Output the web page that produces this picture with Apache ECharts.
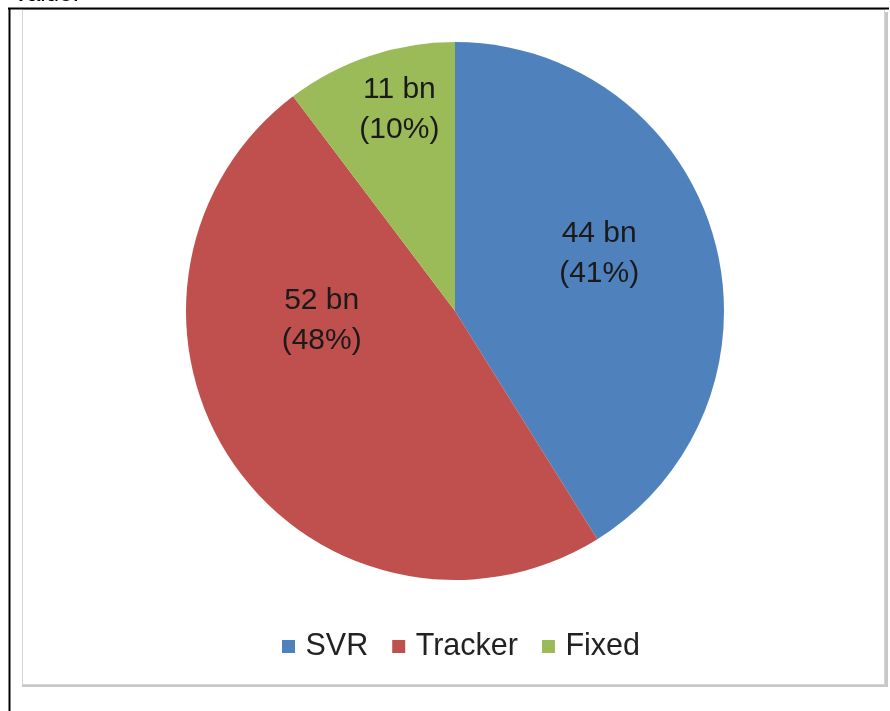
<!DOCTYPE html>
<html>
<head>
<meta charset="utf-8">
<script src="https://cdn.jsdelivr.net/npm/echarts@6/dist/echarts.min.js"></script>
<style>
html,body{margin:0;padding:0;background:#fff;}
#chart{width:890px;height:711px;}
</style>
</head>
<body>
<div id="chart"></div>
<script>
// ---- data ----
const categories = ['SVR', 'Tracker', 'Fixed'];
const valuesBn = [44, 52, 11];
const percentLabels = ['41%', '48%', '10%'];
const sliceColors = ['#4F81BD', '#C0504D', '#9BBB59'];
// label nudges (style only)
const labelNudge = [[12, -19], [-20, -68], [-12, -71]];

const FONT = '"Liberation Sans", Arial, sans-serif';

const chart = echarts.init(document.getElementById('chart'), null, {renderer: 'canvas'});

const option = {
  animation: false,
  backgroundColor: '#fff',
  color: sliceColors,
  graphic: [
    { type: 'text', left: 15, top: -17.5, style: { text: 'value.', font: '24px ' + FONT, fill: '#000' } },
    { type: 'rect', shape: { x: 885, y: 12, width: 3, height: 675 }, style: { fill: '#c8c8c8' }, z: -1 },
    { type: 'rect', shape: { x: 22, y: 684, width: 865, height: 3 }, style: { fill: '#c8c8c8' }, z: -1 },
    { type: 'rect', shape: { x: 22.5, y: 9.5, width: 862, height: 675 }, style: { fill: '#fff', stroke: '#d4d4d4', lineWidth: 1 }, z: -1 },
    { type: 'line', shape: { x1: 8, y1: 8.5, x2: 889, y2: 8.5 }, style: { stroke: '#000', lineWidth: 2 } },
    { type: 'line', shape: { x1: 9.5, y1: 8, x2: 9.5, y2: 711 }, style: { stroke: '#000', lineWidth: 2 } }
  ],
  legend: {
    data: categories,
    left: 277,
    top: 626,
    orient: 'horizontal',
    itemWidth: 24,
    itemHeight: 13,
    itemGap: 24,
    icon: 'path://M0,0H10V10H0Z',
    textStyle: { fontFamily: FONT, fontSize: 30.5, color: '#222', lineHeight: 30 }
  },
  series: [{
    type: 'pie',
    center: [455, 311],
    radius: [0, 269],
    startAngle: 90,
    clockwise: true,
    avoidLabelOverlap: false,
    itemStyle: { borderWidth: 0 },
    label: {
      show: true,
      position: 'inside',
      fontFamily: FONT,
      fontSize: 30,
      lineHeight: 40,
      color: '#1a1a1a',
      align: 'center',
      formatter: function (p) {
        return valuesBn[p.dataIndex] + ' bn\n(' + percentLabels[p.dataIndex] + ')';
      }
    },
    labelLine: { show: false },
    labelLayout: function (params) {
      const n = labelNudge[params.dataIndex];
      return { dx: n[0], dy: n[1] };
    },
    emphasis: { disabled: true },
    data: categories.map(function (c, i) { return { name: c, value: valuesBn[i] }; })
  }]
};

chart.setOption(option);
</script>
</body>
</html>
